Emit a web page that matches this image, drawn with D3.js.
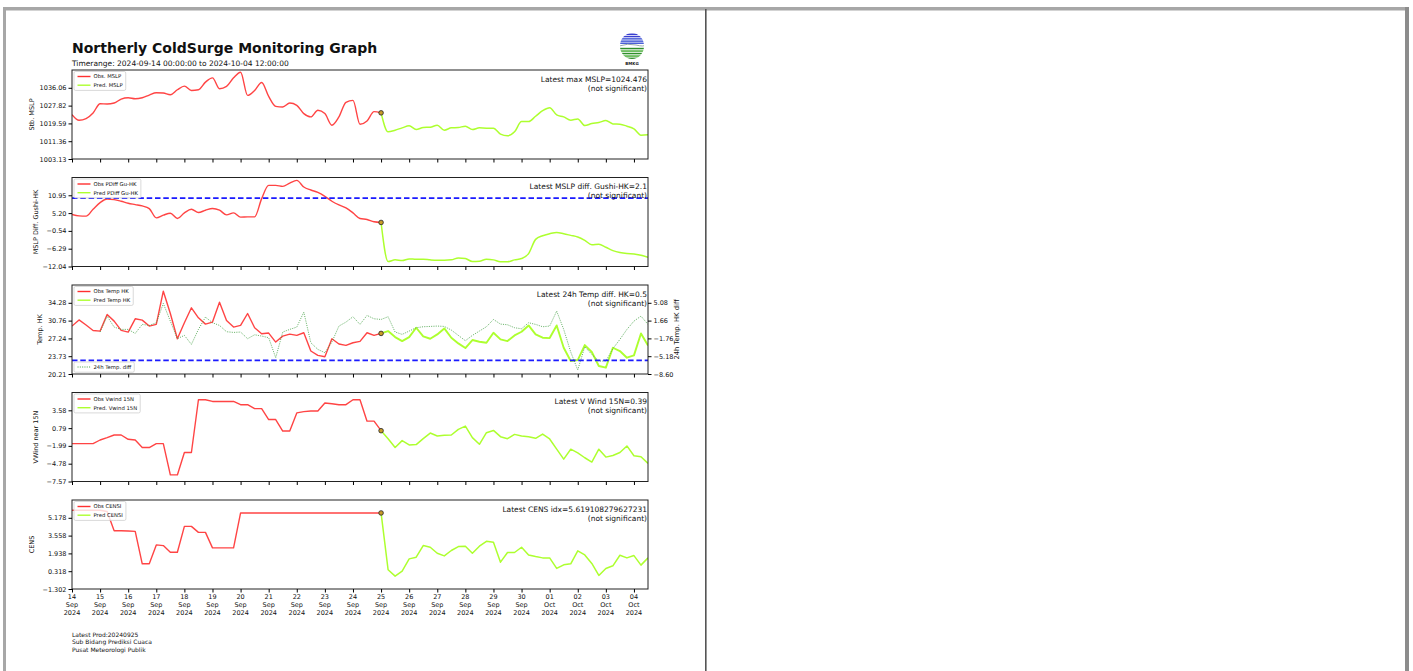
<!DOCTYPE html>
<html><head><meta charset="utf-8">
<script src="https://cdn.jsdelivr.net/npm/d3@7"></script>
<style>
body{margin:0;background:#fff;}
svg{display:block;}
text{font-family:"DejaVu Sans",sans-serif;fill:#111;}
</style>
</head><body>
<svg id="c" width="1413" height="671"></svg>
<script>
// ---------------- DATA ----------------
const titleText = "Northerly ColdSurge Monitoring Graph";
const subtitleText = "Timerange: 2024-09-14 00:00:00 to 2024-10-04 12:00:00";
const footerLines = ["Latest Prod:20240925", "Sub Bidang Prediksi Cuaca", "Pusat Meteorologi Publik"];

const startTime = "2024-09-14 00:00";
const splitTime = "2024-09-25 00:00";
const endTime = "2024-10-04 12:00";
const diffStartTime = "2024-09-15 00:00";
const stepHours = 6;

const xTickDays = ["14","15","16","17","18","19","20","21","22","23","24","25","26","27","28","29","30","01","02","03","04"];
const xTickMonths = ["Sep","Sep","Sep","Sep","Sep","Sep","Sep","Sep","Sep","Sep","Sep","Sep","Sep","Sep","Sep","Sep","Sep","Oct","Oct","Oct","Oct"];
const xTickYear = "2024";

// Panel 1: MSLP
const mslpObs = [1023.66,1021.05,1021.82,1024.42,1028.71,1028.56,1029.02,1030.86,1031.47,1031.01,1031.47,1032.70,1033.77,1033.62,1032.85,1035.15,1036.83,1034.84,1035.15,1038.67,1040.66,1035.61,1036.68,1040.66,1043.27,1032.54,1034.84,1038.52,1032.08,1027.49,1027.18,1029.02,1027.95,1024.12,1022.59,1025.65,1024.12,1018.76,1022.59,1029.33,1030.25,1019.22,1020.75,1025.04,1024.48];
const mslpPred = [1024.48,1015.69,1016.46,1017.53,1018.45,1016.76,1017.68,1017.84,1018.76,1016.46,1017.53,1017.68,1018.30,1016.76,1017.53,1017.38,1017.38,1014.62,1013.85,1015.69,1020.44,1020.44,1022.89,1025.50,1026.88,1023.51,1022.59,1021.05,1021.67,1018.60,1019.52,1019.98,1020.90,1019.37,1019.22,1018.30,1017.07,1014.16,1014.31];
const mslpTicks = [1003.13,1011.36,1019.59,1027.82,1036.06];
const mslpTickLabels = ["1003.13","1011.36","1019.59","1027.82","1036.06"];
const mslpDomain = [1003.13,1044.29];

// Panel 2: MSLP diff Gushi-HK
const pdiffObs = [4.74,4.31,4.21,6.45,8.59,9.76,9.55,9.01,8.37,7.95,7.52,6.66,3.67,4.53,5.17,3.46,5.27,6.45,5.38,6.13,6.66,6.13,4.63,5.27,3.89,3.99,3.99,9.87,14.15,14.15,13.82,14.89,15.75,13.61,12.65,11.90,10.62,9.02,7.84,6.88,5.27,3.46,3.14,2.39,2.18];
const pdiffPred = [2.18,-10.44,-9.90,-10.12,-9.58,-9.69,-9.69,-9.90,-10.01,-10.01,-9.90,-9.26,-9.47,-10.44,-10.33,-9.69,-9.90,-10.54,-10.54,-9.90,-9.47,-7.90,-3.28,-2.10,-1.46,-1.03,-1.46,-1.99,-2.53,-3.60,-4.99,-4.88,-5.84,-6.91,-7.55,-7.87,-7.98,-8.41,-9.05];
const pdiffTicks = [-12.04,-6.29,-0.54,5.20,10.95];
const pdiffTickLabels = ["\u221212.04","\u22126.29","\u22120.54","5.20","10.95"];
const pdiffDomain = [-12.04,16.69];
const pdiffThreshold = 10;

// Panel 3: Temp HK + 24h temp diff
const tempObs = [29.68,30.90,29.90,28.82,28.69,31.98,30.66,28.82,28.49,31.12,30.86,29.68,30.01,36.58,32.17,27.18,30.33,33.29,31.32,30.07,30.47,34.41,30.79,29.48,29.81,32.17,29.35,28.16,28.30,26.52,27.70,28.10,27.84,28.36,24.75,23.89,23.63,27.18,26.13,25.86,26.39,26.65,28.36,27.84,28.23];
const tempPred = [28.23,28.69,27.51,26.72,27.51,29.35,27.64,27.18,28.03,29.22,27.38,26.26,25.34,26.92,26.59,26.39,28.36,27.05,26.72,27.84,28.56,29.81,28.03,27.38,27.31,29.81,25.40,22.77,22.97,25.93,24.55,21.79,21.46,25.40,24.75,23.43,23.89,28.23,25.86];
const tempDiff = [-0.54,2.52,0.41,-0.03,-0.03,-0.80,0.93,0.73,1.25,4.95,1.56,-1.82,-1.18,-2.91,-0.03,2.33,1.25,0.73,-0.48,-0.61,-0.54,-1.82,-1.06,-1.31,-1.63,-5.47,-0.54,-0.03,0.41,3.29,-2.59,-3.87,-4.51,-2.46,0.61,1.37,2.40,0.93,2.65,2.01,1.88,
  2.40,-0.54,-0.99,-0.35,0.29,0.48,0.54,0.61,0.54,-0.16,-1.18,-2.21,-1.18,-0.35,0.48,1.88,0.99,0.86,0.29,0.09,1.25,0.93,0.48,0.61,3.48,-0.03,-4.38,-7.83,-3.36,-4.83,-6.11,-6.11,-3.74,-1.95,-0.03,1.56,2.52,0.93];
const tempTicks = [20.21,23.73,27.24,30.76,34.28];
const tempTickLabels = ["20.21","23.73","27.24","30.76","34.28"];
const tempDomain = [20.21,37.80];
const tempDiffTicks = [-8.60,-5.18,-1.76,1.66,5.08];
const tempDiffTickLabels = ["\u22128.60","\u22125.18","\u22121.76","1.66","5.08"];
const tempDiffDomain = [-8.60,8.50];
const tempDiffThreshold = -6;

// Panel 4: V wind near 15N
const vwindObs = [-1.63,-1.63,-1.63,-1.63,-1.07,-0.70,-0.29,-0.29,-0.96,-1.07,-2.25,-2.25,-1.63,-1.63,-6.54,-6.54,-3.03,-3.03,5.23,5.23,4.97,4.97,4.97,4.97,4.46,4.46,3.84,3.84,2.13,2.13,0.33,0.33,3.17,3.37,3.48,3.48,4.72,4.61,4.46,4.46,5.23,5.23,1.88,1.88,0.39];
const vwindPred = [0.39,-0.86,-2.25,-1.17,-1.84,-1.79,-0.86,0.02,-0.45,-0.34,-0.29,0.59,1.10,-0.70,-1.74,0.07,0.43,-0.55,-0.86,-0.19,-0.45,-0.55,-0.81,-0.14,-0.91,-2.51,-4.06,-2.51,-3.08,-3.85,-4.52,-2.51,-3.75,-3.49,-3.03,-2.00,-3.54,-3.70,-4.73];
const vwindTicks = [-7.57,-4.78,-1.99,0.79,3.58];
const vwindTickLabels = ["\u22127.57","\u22124.78","\u22121.99","0.79","3.58"];
const vwindDomain = [-7.57,6.37];

// Panel 5: CENS index
const censObs = [5.87,5.87,5.87,5.87,5.87,5.75,4.00,4.00,3.97,3.94,0.99,0.99,2.71,2.65,2.04,2.04,4.40,4.40,3.85,3.85,2.44,2.44,2.44,2.44,5.62,5.62,5.62,5.62,5.62,5.62,5.62,5.62,5.62,5.62,5.62,5.62,5.62,5.62,5.62,5.62,5.62,5.62,5.62,5.62,5.62];
const censPred = [5.62,0.45,-0.13,0.33,1.44,1.59,2.65,2.50,1.95,1.71,2.20,2.56,2.59,1.95,2.59,3.04,2.95,1.14,2.02,2.02,2.50,1.80,1.65,1.53,1.53,0.57,0.90,0.99,2.17,1.80,1.02,-0.07,0.57,0.81,1.77,1.53,1.74,0.87,1.53];
const censTicks = [-1.302,0.318,1.938,3.558,5.178];
const censTickLabels = ["\u22121.302","0.318","1.938","3.558","5.178"];
const censDomain = [-1.302,6.798];

// ---------------- LAYOUT / STYLE ----------------
const X0 = 72, X1 = 648, PANEL_TOP = 70, PANEL_STEP = 107.5, PANEL_H = 89;
const OBS_COLOR = "#ff3030", PRED_COLOR = "#adff2f";
const FONT = "DejaVu Sans";

const svg = d3.select("#c");
const parseT = d3.timeParse("%Y-%m-%d %H:%M");
const t0 = parseT(startTime), tSplit = parseT(splitTime), tEnd = parseT(endTime), tDiff0 = parseT(diffStartTime);
const obsTimes = mslpObs.map((_, i) => d3.timeHour.offset(t0, stepHours * i));
const predTimes = mslpPred.map((_, i) => d3.timeHour.offset(tSplit, stepHours * i));
const diffTimes = tempDiff.map((_, i) => d3.timeHour.offset(tDiff0, stepHours * i));
const dayTicks = d3.timeDay.range(t0, tEnd);

const x = d3.scaleTime().domain([t0, tEnd]).range([X0, X1]);

// ---------------- PAGE FRAME ----------------
svg.append("rect").attr("x", 3).attr("y", 7).attr("width", 1406).attr("height", 3.5).attr("fill", "#a7a7a7");
svg.append("rect").attr("x", 3).attr("y", 7).attr("width", 3).attr("height", 664).attr("fill", "#a7a7a7");
svg.append("rect").attr("x", 705).attr("y", 9).attr("width", 1.6).attr("height", 662).attr("fill", "#555");
svg.append("rect").attr("x", 1405).attr("y", 7).attr("width", 4).attr("height", 664).attr("fill", "#8c8c8c");

// ---------------- TITLE ----------------
svg.append("text").attr("x", X0).attr("y", 53).attr("font-size", 14).attr("font-weight", "bold")
  .attr("font-family", FONT).text(titleText);
svg.append("text").attr("x", X0).attr("y", 65.5).attr("font-size", 7.5).attr("font-family", FONT).text(subtitleText);

// logo
(function logo() {
  const g = svg.append("g").attr("transform", "translate(632,46)");
  const defs = svg.append("defs");
  defs.append("clipPath").attr("id", "logoClip").append("ellipse").attr("cx", 0).attr("cy", 0).attr("rx", 12).attr("ry", 13);
  const lg = g.append("g").attr("clip-path", "url(#logoClip)");
  lg.append("rect").attr("x", -13).attr("y", -14).attr("width", 26).attr("height", 28).attr("fill", "#fff");
  [-12.5, -10.2, -7.9, -5.6, -3.5].forEach((yy, i) => {
    lg.append("rect").attr("x", -13).attr("y", yy).attr("width", 26).attr("height", 1.5)
      .attr("fill", i < 2 ? "#3a3fd0" : "#4a5fd8");
  });
  lg.append("path").attr("d", "M-13,0 Q-4,-3 4,-1 T13,-1").attr("stroke", "#9aa", "stroke-width", 1).attr("fill", "none");
  [1.8, 4.3, 6.8, 9.3, 11.6].forEach((yy, i) => {
    lg.append("rect").attr("x", -13).attr("y", yy).attr("width", 26).attr("height", 1.5).attr("fill", i % 2 ? "#4cae3c" : "#2e8f2a");
  });
  g.append("text").attr("x", 0).attr("y", 19).attr("text-anchor", "middle").attr("font-size", 4)
    .attr("font-weight", "bold").attr("font-family", FONT).text("BMKG");
})();

// ---------------- PANELS ----------------
const panels = [
  { obs: mslpObs, pred: mslpPred, domain: mslpDomain, ticks: mslpTicks, labels: mslpTickLabels, ylabel: "Stb. MSLP", ylx: 34,
    curve: d3.curveMonotoneX, leg: ["Obs. MSLP", "Pred. MSLP"],
    note: ["Latest max MSLP=1024.476", "(not significant)"] },
  { obs: pdiffObs, pred: pdiffPred, domain: pdiffDomain, ticks: pdiffTicks, labels: pdiffTickLabels, ylabel: "MSLP Diff. Gushi-HK", ylx: 38,
    curve: d3.curveMonotoneX, leg: ["Obs PDiff Gu-HK", "Pred PDiff Gu-HK"], hline: pdiffThreshold,
    note: ["Latest MSLP diff. Gushi-HK=2.1", "(not significant)"] },
  { obs: tempObs, pred: tempPred, domain: tempDomain, ticks: tempTicks, labels: tempTickLabels, ylabel: "Temp. HK", ylx: 42,
    curve: d3.curveLinear, leg: ["Obs Temp HK", "Pred Temp HK"], twin: true, predWidth: 1.9,
    note: ["Latest 24h Temp diff. HK=0.5", "(not significant)"] },
  { obs: vwindObs, pred: vwindPred, domain: vwindDomain, ticks: vwindTicks, labels: vwindTickLabels, ylabel: "VWind near 15N", ylx: 38,
    curve: d3.curveLinear, leg: ["Obs Vwind 15N", "Pred. Vwind 15N"],
    note: ["Latest V Wind 15N=0.39", "(not significant)"] },
  { obs: censObs, pred: censPred, domain: censDomain, ticks: censTicks, labels: censTickLabels, ylabel: "CENS", ylx: 34,
    curve: d3.curveLinear, leg: ["Obs CENSI", "Pred CENSI"],
    note: ["Latest CENS idx=5.619108279627231", "(not significant)"] }
];

function legend(g, x0, y0, items) {
  const rowH = 8.7;
  const box = g.append("rect").attr("x", x0).attr("y", y0).attr("height", items.length * rowH + 1.5)
    .attr("rx", 1.5).attr("fill", "#fff").attr("fill-opacity", 0.8).attr("stroke", "#c8c8c8").attr("stroke-width", 0.7);
  let maxW = 0;
  items.forEach((it, i) => {
    const cy = y0 + 5 + i * rowH;
    g.append("line").attr("x1", x0 + 3.5).attr("x2", x0 + 16.5).attr("y1", cy).attr("y2", cy)
      .attr("stroke", it.color).attr("stroke-width", it.width || 1.4).attr("stroke-dasharray", it.dash || null)
      .attr("stroke-opacity", it.opacity || 1);
    const t = g.append("text").attr("x", x0 + 19.5).attr("y", cy + 1.9).attr("font-size", 5.3)
      .attr("font-family", FONT).text(it.label);
    maxW = Math.max(maxW, t.node().getComputedTextLength());
  });
  box.attr("width", 19.5 + maxW + 3);
}

panels.forEach((p, k) => {
  const top = PANEL_TOP + k * PANEL_STEP, bot = top + PANEL_H;
  const y = d3.scaleLinear().domain(p.domain).range([bot, top]);
  const g = svg.append("g");
  svg.append("clipPath").attr("id", "clip" + k).append("rect")
    .attr("x", X0).attr("y", top).attr("width", X1 - X0).attr("height", PANEL_H);
  const plot = g.append("g").attr("clip-path", `url(#clip${k})`);
  const line = d3.line().curve(p.curve).x(d => x(d[0])).y(d => y(d[1]));

  plot.append("path").datum(d3.zip(obsTimes, p.obs)).attr("d", line).attr("fill", "none")
    .attr("stroke", OBS_COLOR).attr("stroke-width", 1.4).attr("stroke-linejoin", "round").attr("stroke-opacity", 0.9);
  plot.append("path").datum(d3.zip(predTimes, p.pred)).attr("d", line).attr("fill", "none")
    .attr("stroke", PRED_COLOR).attr("stroke-width", p.predWidth || 1.5).attr("stroke-linejoin", "round");

  if (p.hline != null) {
    plot.append("line").attr("x1", X0).attr("x2", X1).attr("y1", y(p.hline)).attr("y2", y(p.hline))
      .attr("stroke", "#1a1aff").attr("stroke-width", 1.8).attr("stroke-dasharray", "5.5,2.8");
  }

  // marker at the latest observation
  plot.append("circle").attr("cx", x(tSplit)).attr("cy", y(p.obs[p.obs.length - 1])).attr("r", 2.3)
    .attr("fill", "#c89a28").attr("stroke", "#222").attr("stroke-width", 0.8);

  let y2 = null;
  if (p.twin) {
    y2 = d3.scaleLinear().domain(tempDiffDomain).range([bot, top]);
    const l2 = d3.line().x(d => x(d[0])).y(d => y2(d[1]));
    plot.append("path").datum(d3.zip(diffTimes, tempDiff)).attr("d", l2).attr("fill", "none")
      .attr("stroke", "#3c9c3c").attr("stroke-width", 0.9).attr("stroke-dasharray", "1.1,1.2").attr("stroke-opacity", 0.85);
    plot.append("line").attr("x1", X0).attr("x2", X1).attr("y1", y2(tempDiffThreshold)).attr("y2", y2(tempDiffThreshold))
      .attr("stroke", "#1a1aff").attr("stroke-width", 1.8).attr("stroke-dasharray", "5.5,2.8");
  }

  // frame
  g.append("rect").attr("x", X0).attr("y", top).attr("width", X1 - X0).attr("height", PANEL_H)
    .attr("fill", "none").attr("stroke", "#222").attr("stroke-width", 1);

  // y axis
  const ya = d3.axisLeft(y).tickValues(p.ticks).tickFormat((d, i) => p.labels[i]).tickSize(3.5).tickPadding(2);
  const yg = g.append("g").attr("transform", `translate(${X0},0)`).call(ya);
  yg.select(".domain").remove();
  yg.attr("font-family", FONT).attr("font-size", 6.5);
  yg.selectAll("text").attr("fill", "#111");

  if (p.twin) {
    const ya2 = d3.axisRight(y2).tickValues(tempDiffTicks).tickFormat((d, i) => tempDiffTickLabels[i]).tickSize(3.5).tickPadding(2);
    const yg2 = g.append("g").attr("transform", `translate(${X1},0)`).call(ya2);
    yg2.select(".domain").remove();
    yg2.attr("font-family", FONT).attr("font-size", 6.5);
    yg2.selectAll("text").attr("fill", "#111");
    g.append("text").attr("transform", `translate(679,${(top + bot) / 2}) rotate(-90)`).attr("text-anchor", "middle")
      .attr("font-size", 6.8).attr("font-family", FONT).text("24h Temp. HK diff");
  }

  // x axis
  const xa = d3.axisBottom(x).tickValues(dayTicks).tickSize(3.5).tickFormat("");
  const xg = g.append("g").attr("transform", `translate(0,${bot})`).call(xa);
  xg.select(".domain").remove();
  if (k === panels.length - 1) {
    dayTicks.forEach((d, i) => {
      const t = g.append("text").attr("x", x(d)).attr("text-anchor", "middle").attr("font-size", 6.5).attr("font-family", FONT);
      [xTickDays[i], xTickMonths[i], xTickYear].forEach((s, j) => {
        t.append("tspan").attr("x", x(d)).attr("y", bot + 9.5 + j * 8).text(s);
      });
    });
  }

  // y label
  g.append("text").attr("transform", `translate(${p.ylx},${(top + bot) / 2}) rotate(-90)`).attr("text-anchor", "middle")
    .attr("font-size", 6.5).attr("font-family", FONT).text(p.ylabel);

  // annotation
  p.note.forEach((s, i) => {
    g.append("text").attr("x", X1 - 1).attr("y", top + 11.5 + i * 9).attr("text-anchor", "end")
      .attr("font-size", 7.5).attr("font-family", FONT).text(s);
  });

  // legends
  legend(g, 74, top + 1.5, [
    { label: p.leg[0], color: OBS_COLOR },
    { label: p.leg[1], color: PRED_COLOR }
  ]);
  if (p.twin) {
    legend(g, 74, bot - 12, [{ label: "24h Temp. diff", color: "#3c9c3c", dash: "1.1,1.2", width: 0.9 }]);
  }
});

// footer
footerLines.forEach((s, i) => {
  svg.append("text").attr("x", X0).attr("y", 637 + i * 7.3).attr("font-size", 6).attr("font-family", FONT).text(s);
});
</script>
</body></html>
